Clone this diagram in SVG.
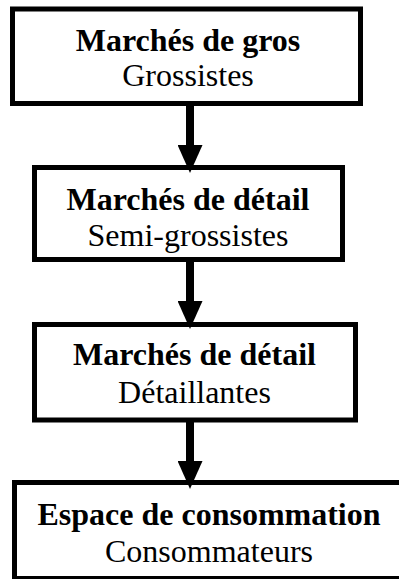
<svg xmlns="http://www.w3.org/2000/svg" width="399" height="579" viewBox="0 0 399 579">
<style>
.box{fill:#fff;stroke:#000;stroke-width:5}
.t{font-family:"Liberation Serif","Times New Roman",serif;font-size:32px;fill:#000;text-anchor:middle}
.b{font-weight:bold}
.conn{stroke:#000;stroke-width:8;fill:none}
</style>
<defs>
<marker id="ah" markerUnits="userSpaceOnUse" viewBox="0 0 28 25" markerWidth="28" markerHeight="25" refX="0" refY="12.5" orient="auto">
<path d="M0,0 L28,12.5 L0,25 z" fill="#000"/>
</marker>
</defs>
<rect width="399" height="579" fill="#fff"/>
<g id="node1">
<rect class="box" x="12.5" y="9" width="348" height="94.5"/>
<text class="t b" x="188" y="51">Marchés de gros</text>
<text class="t" x="188" y="86">Grossistes</text>
</g>
<g id="node2">
<rect class="box" x="34.5" y="167.5" width="308" height="92"/>
<text class="t b" x="188" y="210">Marchés de détail</text>
<text class="t" x="188" y="246">Semi-grossistes</text>
</g>
<g id="node3">
<rect class="box" x="34.5" y="324.5" width="321" height="95.5"/>
<text class="t b" x="194.5" y="365">Marchés de détail</text>
<text class="t" x="194.5" y="403">Détaillantes</text>
</g>
<g id="node4">
<rect class="box" x="14.5" y="482.5" width="390" height="96"/>
<text class="t b" x="209" y="525">Espace de consommation</text>
<text class="t" x="209" y="562">Consommateurs</text>
</g>
<g id="connectors">
<line class="conn" x1="190" y1="106" x2="190" y2="145" marker-end="url(#ah)"/>
<line class="conn" x1="190" y1="262" x2="190" y2="301" marker-end="url(#ah)"/>
<line class="conn" x1="190" y1="422" x2="190" y2="461" marker-end="url(#ah)"/>
</g>
</svg>
